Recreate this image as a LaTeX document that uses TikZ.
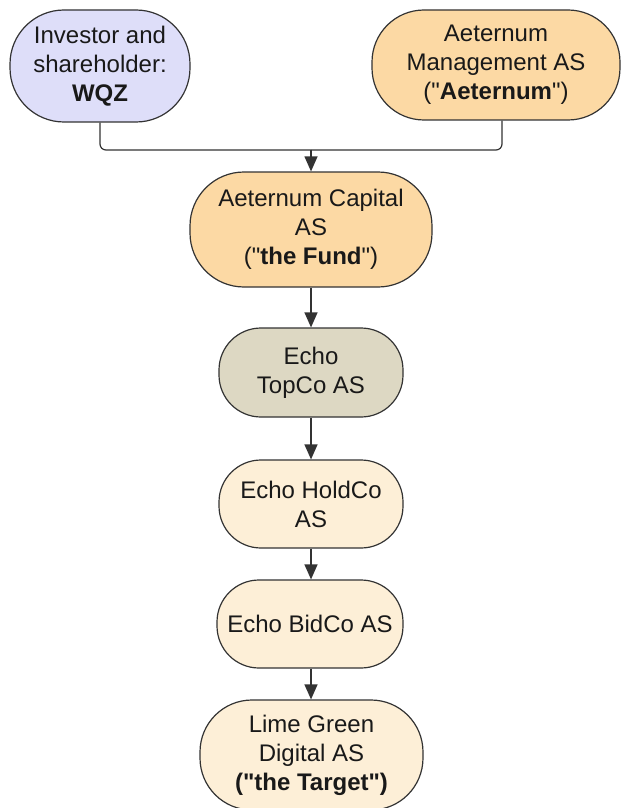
\documentclass[tikz,border=0pt]{standalone}
\usepackage{fontspec}
\setmainfont{Liberation Sans}[Ligatures=TeXOff]
\usetikzlibrary{arrows.meta}
\definecolor{lav}{HTML}{DEDEF9}
\definecolor{orng}{HTML}{FCD9A4}
\definecolor{greyb}{HTML}{DDD8C3}
\definecolor{cream}{HTML}{FDEFD7}
\definecolor{edge}{HTML}{333333}
\tikzset{
  ent/.style={draw=edge, line width=0.6pt, inner sep=0pt, align=center,
    font=\fontsize{12}{14.5}\selectfont, text=black!90},
  link/.style={draw=edge, line width=0.6pt, -{Triangle[length=7.5pt,width=6.5pt]}},
}
\begin{document}
\begin{tikzpicture}[x=0.5pt,y=-0.5pt]
\useasboundingbox (0,0) rectangle (623,808);
\node[ent, fill=lav, minimum width=90pt, minimum height=56pt, rounded corners=27pt] (wqz) at (100,66) {Investor and\\shareholder:\\\textbf{WQZ}};
\node[ent, fill=orng, minimum width=124pt, minimum height=55pt, rounded corners=26pt] (aet) at (496,65) {Aeternum\\Management AS\\("\textbf{Aeternum}")};
\node[ent, fill=orng, minimum width=121pt, minimum height=57.5pt, rounded corners=27pt] (fund) at (311,229.5) {Aeternum Capital\\AS\\("\textbf{the Fund}")};
\node[ent, fill=greyb, minimum width=92pt, minimum height=44.5pt, rounded corners=21pt] (topco) at (311,372.5) {Echo\\TopCo AS};
\node[ent, fill=cream, minimum width=92pt, minimum height=44pt, rounded corners=21pt] (holdco) at (311,504) {Echo HoldCo\\AS};
\node[ent, fill=cream, minimum width=93pt, minimum height=44pt, rounded corners=21pt] (bidco) at (310,624) {Echo BidCo AS};
\node[ent, fill=cream, minimum width=111.5pt, minimum height=55pt, rounded corners=26pt] (target) at (311.5,755) {Lime Green\\Digital AS\\\textbf{("the Target")}};
\coordinate (j) at (311,150);
\draw[draw=edge, line width=0.6pt, rounded corners=3pt] (wqz.south) |- (j);
\draw[draw=edge, line width=0.6pt, rounded corners=3pt] (aet.south -| 502,0) |- (j);
\draw[link] (j) -- (fund.north);
\draw[link] (fund.south) -- (topco.north);
\draw[link] (topco.south) -- (holdco.north);
\draw[link] (holdco.south) -- (bidco.north -| holdco.south);
\draw[link] (bidco.south -| holdco.south) -- (target.north -| holdco.south);
\end{tikzpicture}
\end{document}
